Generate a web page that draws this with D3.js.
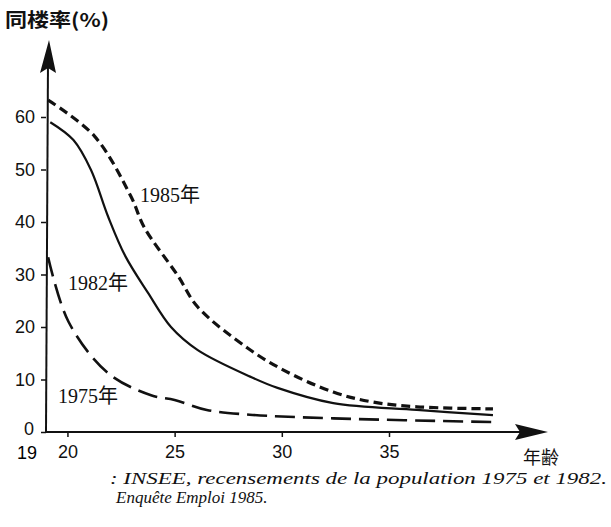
<!DOCTYPE html>
<html>
<head>
<meta charset="utf-8">
<script src="https://cdn.jsdelivr.net/npm/d3@7"></script>
<style>
  body { margin: 0; background: #fff; }
  svg { display: block; }
  .tick text { font-family: "Liberation Sans", sans-serif; font-size: 18px; fill: #111; }
  .label { font-family: "Liberation Serif", "Noto Sans CJK SC", serif; font-size: 20px; fill: #111; }
  .cjk { font-family: "Noto Sans CJK SC", sans-serif; fill: #111; }
  .note { font-family: "Liberation Serif", serif; font-style: italic; font-size: 17px; fill: #111; }
</style>
</head>
<body>
<div id="chart"></div>
<script>
const width = 611;
const height = 527;

// Data (age, cohabitation rate %)
const ages1985 = [19.1, 21.25, 22.97, 23.58, 25.16, 26.08, 28.4, 30.08, 32.4, 34.26, 36.3, 39.85];
const rate1985 = [63.2, 56.4, 44.8, 39.0, 29.7, 23.8, 16.0, 11.8, 7.6, 5.7, 4.8, 4.4];

const ages1982 = [19.2, 20.28, 21.1, 21.9, 22.7, 23.76, 24.83, 26.08, 28.55, 29.8, 32.4, 36.3, 39.85];
const rate1982 = [59.0, 55.6, 49.9, 41.0, 33.5, 26.5, 20.0, 15.6, 10.5, 8.4, 5.5, 4.2, 3.2];

const ages1975 = [19.1, 20.05, 21.9, 23.9, 25.0, 26.5, 28.5, 32.4, 39.85];
const rate1975 = [33.3, 21.0, 11.2, 7.0, 6.1, 4.2, 3.3, 2.6, 1.9];

const xTicks = [20, 25, 30, 35];
const yTicks = [0, 10, 20, 30, 40, 50, 60];

const series = [
  {name: '1985年', ages: ages1985, rates: rate1985, dash: '9,5', width: 3.2, lx: 140, ly: 202},
  {name: '1982年', ages: ages1982, rates: rate1982, dash: null, width: 2.2, lx: 68, ly: 290},
  {name: '1975年', ages: ages1975, rates: rate1975, dash: '20,8', width: 2.6, lx: 58, ly: 403}
];

const svg = d3.select('#chart').append('svg')
  .attr('width', width)
  .attr('height', height);

const x = d3.scaleLinear().domain([19, 35]).range([46, 389]);
const y = d3.scaleLinear().domain([0, 60]).range([432, 117]);

// Axes
const xAxis = svg.append('g')
    .attr('transform', `translate(0, ${y(0)})`)
    .call(d3.axisBottom(x).tickValues(xTicks).tickSize(5).tickSizeOuter(0).tickPadding(8));
xAxis.select('.domain').remove();
xAxis.selectAll('line').attr('stroke', '#111').attr('stroke-width', 1.5);

const yAxis = svg.append('g')
    .attr('transform', `translate(${x(19)}, 0)`)
    .call(d3.axisLeft(y).tickValues(yTicks).tickSize(5).tickSizeOuter(0).tickPadding(6));
yAxis.select('.domain').remove();
yAxis.selectAll('line').attr('stroke', '#111').attr('stroke-width', 1.5);
yAxis.selectAll('.tick').filter(d => d === 0).select('text').attr('dy', '0.15em').attr('x', -12);

// Axis lines with arrow heads
svg.append('line')
    .attr('x1', x(19)).attr('x2', 530)
    .attr('y1', y(0)).attr('y2', y(0))
    .attr('stroke', '#111').attr('stroke-width', 2);
svg.append('path')
    .attr('d', `M515,${y(0) - 8} L548,${y(0)} L515,${y(0) + 8} L520,${y(0)} Z`)
    .attr('fill', '#111');
svg.append('line')
    .attr('x1', x(19)).attr('x2', x(19) + 2)
    .attr('y1', y(0)).attr('y2', 60)
    .attr('stroke', '#111').attr('stroke-width', 2);
svg.append('path')
    .attr('d', `M${x(19) + 2 - 8},73 L${x(19) + 3},40 L${x(19) + 2 + 8},73 L${x(19) + 2},68 Z`)
    .attr('fill', '#111');

// Origin age label
svg.append('text')
    .attr('x', x(19) - 19)
    .attr('y', y(0) + 27)
    .attr('text-anchor', 'middle')
    .style('font-family', '"Liberation Sans", sans-serif')
    .style('font-size', '18px')
    .text('19');

// Lines
const line = d3.line()
    .x(d => x(d[0]))
    .y(d => y(d[1]))
    .curve(d3.curveCatmullRom.alpha(0.5));

svg.append('g')
  .selectAll('path')
  .data(series)
  .join('path')
    .attr('d', d => line(d.ages.map((a, i) => [a, d.rates[i]])))
    .attr('fill', 'none')
    .attr('stroke', '#111')
    .attr('stroke-width', d => d.width)
    .attr('stroke-dasharray', d => d.dash);

svg.append('g')
  .selectAll('text')
  .data(series)
  .join('text')
    .attr('class', 'label')
    .attr('x', d => d.lx)
    .attr('y', d => d.ly)
    .text(d => d.name);

// Titles
svg.append('text')
    .attr('class', 'cjk')
    .attr('x', 5)
    .attr('y', 27)
    .attr('textLength', 104)
    .attr('lengthAdjust', 'spacingAndGlyphs')
    .style('font-size', '19px')
    .style('font-weight', 'bold')
    .text('同楼率(%)');

svg.append('text')
    .attr('class', 'cjk')
    .attr('x', 523)
    .attr('y', 464)
    .style('font-size', '18px')
    .text('年齢');

// Source note
svg.append('text')
    .attr('class', 'note')
    .attr('x', 110)
    .attr('y', 484)
    .attr('textLength', 497)
    .attr('lengthAdjust', 'spacingAndGlyphs')
    .text(': INSEE, recensements de la population 1975 et 1982.');
svg.append('text')
    .attr('class', 'note')
    .attr('x', 116)
    .attr('y', 503)
    .text('Enquête Emploi 1985.');
</script>
</body>
</html>
